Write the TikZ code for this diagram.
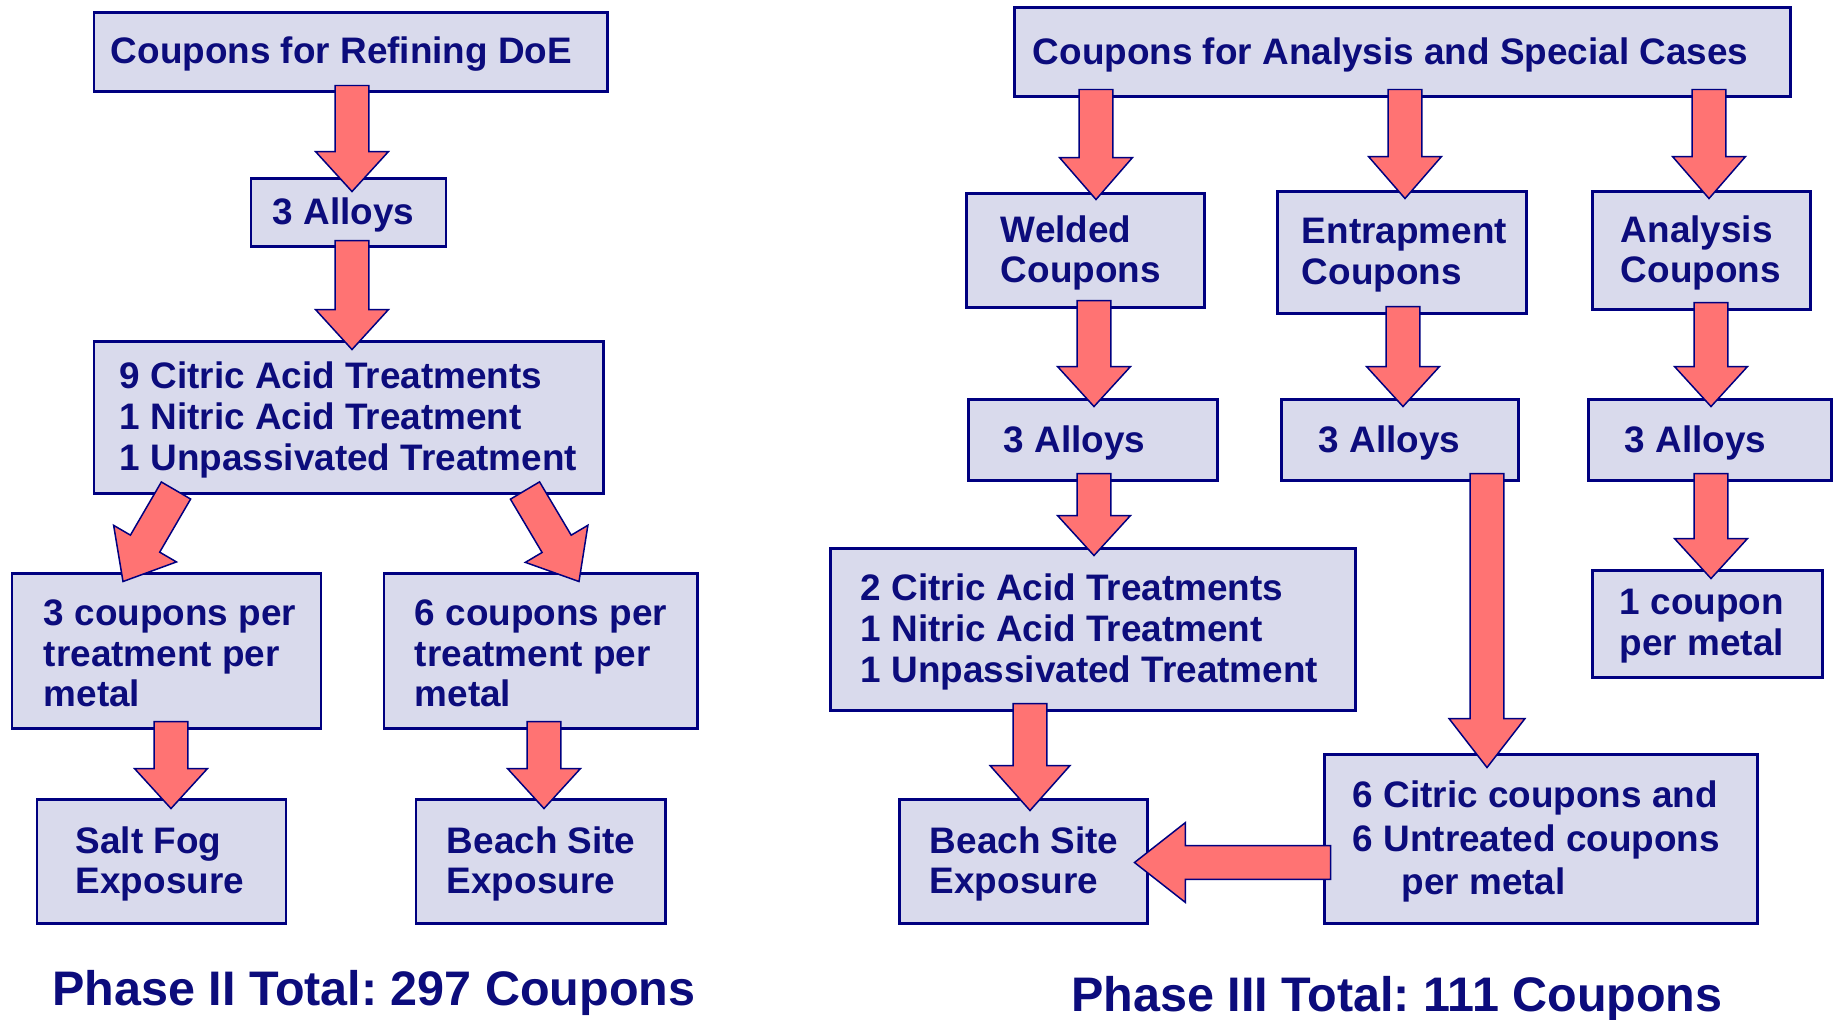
\documentclass[tikz,border=0pt]{standalone}
\usepackage{fontspec}
\setmainfont{Liberation Sans}
\usetikzlibrary{calc}
\frenchspacing
\definecolor{navyline}{RGB}{0,0,128}
\definecolor{navytext}{RGB}{12,12,124}
\definecolor{boxfill}{RGB}{217,218,236}
\definecolor{arrowfill}{RGB}{255,115,115}
\tikzset{
 boxnode/.style={draw=navyline, line width=1.7pt, fill=boxfill, rectangle, inner sep=0pt},
 boxtext/.style={anchor=west, inner sep=0pt, align=left, text=navytext, font=\fontsize{21}{23.2}\selectfont\bfseries},
 titletext/.style={anchor=base west, inner sep=0pt, text=navytext, font=\fontsize{27.6}{30}\selectfont\bfseries},
 barrowstyle/.style={draw=navyline, line width=0.85pt, fill=arrowfill, line join=miter},
}
\def\bS{9.64}
% #1 head length (px), #2 head half width (px), #3 from, #4 to
\newcommand\barrow[4]{%
  \path let \p1=#3, \p2=#4 in \pgfextra{%
    \pgfmathsetmacro\bAng{atan2(\y2-\y1,\x2-\x1)}%
    \pgfmathsetmacro\bLen{veclen(\x2-\x1,\y2-\y1)}%
    \xdef\bAngG{\bAng}\xdef\bLenG{\bLen}\xdef\bXG{\x1}\xdef\bYG{\y1}};
  \pgfmathsetmacro\bH{#1*0.56693}%
  \pgfmathsetmacro\bW{#2*0.56693}%
  \pgfmathsetmacro\bB{\bLenG-\bH}%
  \draw[barrowstyle, shift={(\bXG,\bYG)}, rotate=\bAngG]
    (0pt,-\bS pt) -- (\bB pt,-\bS pt) -- (\bB pt,-\bW pt) -- (\bLenG pt,0pt)
    -- (\bB pt,\bW pt) -- (\bB pt,\bS pt) -- (0pt,\bS pt) -- cycle;
}
\newcommand\bxn[5]{\node[boxnode, minimum width=#4*0.02cm, minimum height=#5*0.02cm] (#1) at (#2,#3) {};}
\begin{document}
\begin{tikzpicture}[x=0.02cm, y=-0.02cm]
\useasboundingbox (0,0) rectangle (1836,1019);
\fill[white] (0,0) rectangle (1836,1019);
% left boxes
\bxn{B1}{350.5}{51.5}{513}{79}
\bxn{B2}{348.5}{212}{195}{68}
\bxn{B3}{348.5}{417}{509}{152}
\bxn{B4}{166.5}{650.5}{309}{155}
\bxn{B5}{540.5}{650.5}{313}{155}
\bxn{B6}{161.5}{861}{249}{124}
\bxn{B7}{540.5}{861}{249}{124}
% right boxes
\bxn{R1}{1402}{51.5}{776}{89}
\bxn{R2}{1085}{250}{238}{114}
\bxn{R3}{1401.5}{252}{249}{122}
\bxn{R4}{1701}{250}{218}{118}
\bxn{R5}{1092.5}{439.5}{249}{81}
\bxn{R6}{1399.5}{439.5}{237}{81}
\bxn{R7}{1709.5}{439.5}{243}{81}
\bxn{R8}{1092.5}{629}{525}{162}
\bxn{R9}{1707}{623.5}{230}{107}
\bxn{R10}{1023}{861}{248}{124}
\bxn{R11}{1540.5}{838.5}{433}{169}
% texts
\node[boxtext] (B1t) at ($(B1.west)+(18,3)$) {Coupons for Refining DoE};
\node[boxtext] (B2t) at ($(B2.west)+(23,3)$) {3 Alloys};
\node[boxtext] (B3t) at ($(B3.west)+(27,3)$) {9 Citric Acid Treatments\\1 Nitric Acid Treatment\\1 Unpassivated Treatment};
\node[boxtext] (B4t) at ($(B4.west)+(33,3)$) {3 coupons per\\treatment per\\metal};
\node[boxtext] (B5t) at ($(B5.west)+(32,3)$) {6 coupons per\\treatment per\\metal};
\node[boxtext] (B6t) at ($(B6.west)+(40,3)$) {Salt Fog\\Exposure};
\node[boxtext] (B7t) at ($(B7.west)+(32,3)$) {Beach Site\\Exposure};
\node[boxtext] (R1t) at ($(R1.west)+(20,3)$) {Coupons for Analysis and Special Cases};
\node[boxtext] (R2t) at ($(R2.west)+(36,3)$) {Welded\\Coupons};
\node[boxtext] (R3t) at ($(R3.west)+(26,3)$) {Entrapment\\Coupons};
\node[boxtext] (R4t) at ($(R4.west)+(30,3)$) {Analysis\\Coupons};
\node[boxtext] (R5t) at ($(R5.west)+(37,3)$) {3 Alloys};
\node[boxtext] (R6t) at ($(R6.west)+(39,3)$) {3 Alloys};
\node[boxtext] (R7t) at ($(R7.west)+(38,3)$) {3 Alloys};
\node[boxtext] (R8t) at ($(R8.west)+(32,3)$) {2 Citric Acid Treatments\\1 Nitric Acid Treatment\\1 Unpassivated Treatment};
\node[boxtext] (R9t) at ($(R9.west)+(29,3)$) {1 coupon\\per metal};
\node[boxtext] (R10t) at ($(R10.west)+(32,3)$) {Beach Site\\Exposure};
\node[boxtext, font=\fontsize{21}{25}\selectfont\bfseries] (R11t) at ($(R11.west)+(30,3)$) {6 Citric coupons and\\6 Untreated coupons\\\hspace*{27.8pt}per metal};
% titles
\node[titletext] (T1) at (52,1005) {Phase II Total: 297 Coupons};
\node[titletext] (T2) at (1071,1011) {Phase III Total: 111 Coupons};
% arrows left
\barrow{40}{36.5}{($(B1.south)+(1.5,-7)$)}{($(B2.north)+(3.5,15)$)}
\barrow{40}{36.5}{($(B2.south)+(3.5,-7)$)}{($(B3.north)+(3.5,10)$)}
\barrow{44}{36.5}{($(B3.south)+(-172.5,-4)$)}{($(B4.north)+(-43.5,10)$)}
\barrow{44}{36.5}{($(B3.south)+(176.5,-4)$)}{($(B5.north)+(38.5,10)$)}
\barrow{40}{36.5}{($(B4.south)+(4.5,-8)$)}{($(B6.north)+(9.5,11)$)}
\barrow{40}{36.5}{($(B5.south)+(3.5,-8)$)}{($(B7.north)+(3.5,11)$)}
% arrows right
\barrow{42}{36.5}{($(R1.south)+(-306,-8)$)}{($(R2.north)+(11,8)$)}
\barrow{42}{36.5}{($(R1.south)+(3,-8)$)}{($(R3.north)+(3.5,9)$)}
\barrow{42}{36.5}{($(R1.south)+(307,-8)$)}{($(R4.north)+(8,9)$)}
\barrow{40}{36.5}{($(R2.south)+(9,-8)$)}{($(R5.north)+(1.5,9)$)}
\barrow{40}{36.5}{($(R3.south)+(1.5,-8)$)}{($(R6.north)+(3.5,9)$)}
\barrow{40}{36.5}{($(R4.south)+(10,-8)$)}{($(R7.north)+(1.5,9)$)}
\barrow{40}{36.5}{($(R5.south)+(1.5,-8)$)}{($(R8.north)+(1.5,9)$)}
\barrow{49}{38}{($(R6.south)+(87.5,-8)$)}{($(R11.north)+(-53.5,15)$)}
\barrow{40}{36.5}{($(R7.south)+(1.5,-8)$)}{($(R9.north)+(4,10)$)}
\barrow{45}{40}{($(R8.south)+(-62.5,-8)$)}{($(R10.north)+(7,13)$)}
\barrow{51}{40}{($(R11.west)+(8,24)$)}{($(R10.east)+(-14,1.5)$)}
\end{tikzpicture}
\end{document}
